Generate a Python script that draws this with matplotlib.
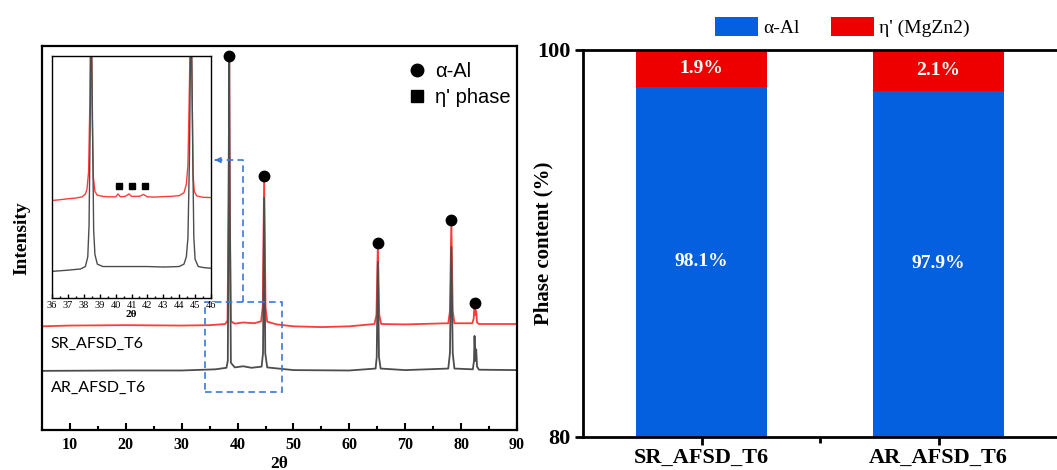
import matplotlib
matplotlib.use("Agg")
import matplotlib.pyplot as plt
from matplotlib.lines import Line2D
from matplotlib.patches import Rectangle

# ---------------- data ----------------
# main XRD pattern (2theta, relative intensity with offset)
sr_x = [5, 10, 20, 30, 35, 37.8, 38.2, 38.4, 38.5, 38.6, 38.8, 39.5, 41, 43, 44.2, 44.5, 44.75, 45.0, 45.3,
        47, 50, 55, 60, 64.5, 64.85, 65.1, 65.35, 65.7, 70, 77.7, 78.0, 78.25, 78.5, 78.8,
        82.0, 82.25, 82.4, 82.55, 82.7, 82.85, 83.2, 90]
sr_y = [27.0, 27.2, 27.3, 27.2, 27.3, 27.6, 28.5, 60, 97.5, 60, 28.3, 27.7, 28.0, 27.8, 28.3, 32, 65.5, 32, 28.2,
        27.5, 27.0, 26.8, 27.0, 27.6, 30, 48.5, 30, 27.6, 27.5, 27.8, 31, 54.5, 31, 27.8,
        27.8, 29, 33.0, 30, 31, 28, 27.6, 27.6]
ar_x = [5, 20, 30, 36, 38.0, 38.25, 38.4, 38.5, 38.6, 38.8, 39.5, 41, 42.5, 44.3, 44.55, 44.75, 44.95, 45.3,
        50, 60, 64.7, 64.9, 65.1, 65.3, 65.6, 70, 77.7, 78.0, 78.25, 78.5, 78.8,
        82.1, 82.3, 82.4, 82.55, 82.7, 82.85, 83.2, 90]
ar_y = [15.4, 15.5, 15.5, 15.8, 16.2, 18, 60, 97.3, 60, 17.5, 16.3, 16.6, 16.2, 16.5, 20, 60.5, 20, 16.3,
        15.6, 15.5, 16, 19, 43.8, 19, 16, 15.6, 16, 20, 47.7, 20, 16,
        15.8, 18, 24.5, 18, 21, 16.5, 15.7, 15.6]
al_peak_x = [38.5, 44.75, 65.1, 78.25, 82.4]
al_peak_y = [97.4, 66.1, 48.7, 54.7, 33.1]

# inset (36-46 deg)
sr_in_x = [36.0, 36.5, 37.0, 37.5, 37.9, 38.1, 38.2, 38.3, 38.38, 38.45, 38.52, 38.6, 38.7, 38.85, 39.2, 39.6,
           40.0, 40.15, 40.3, 40.6, 40.85, 41.0, 41.5, 41.75, 42.0, 42.5, 43.0, 43.5, 44.0, 44.3, 44.45,
           44.55, 44.65, 44.72, 44.8, 44.88, 44.95, 45.1, 45.5, 46.0]
sr_in_y = [40.3, 40.6, 41.0, 41.3, 41.8, 43.0, 45, 52, 80, 130, 80, 50, 44, 42.5, 42, 41.8,
           41.8, 43, 41.8, 42, 43, 42, 42, 42.8, 41.8, 41.7, 41.9, 42.0, 42.3, 43.5, 47,
           55, 90, 130, 90, 50, 44, 42.2, 41.6, 41.5]
ar_in_x = [36.0, 37.0, 37.8, 38.1, 38.25, 38.33, 38.4, 38.46, 38.55, 38.62, 38.7, 38.85, 39.2, 40, 41, 42, 43,
           44, 44.3, 44.45, 44.55, 44.65, 44.75, 44.85, 44.92, 45.0, 45.2, 45.6, 46]
ar_in_y = [11.0, 11.5, 12, 13, 17, 30, 70, 130, 70, 28, 18, 14, 13, 13, 13, 13, 12.8,
           13, 14, 17, 25, 60, 130, 60, 25, 16, 13, 12.5, 12.3]
eta_x = [40.24, 41.06, 41.85]
eta_y = [46.3, 46.3, 46.3]

# phase content
samples = ["SR_AFSD_T6", "AR_AFSD_T6"]
alpha_al = [98.1, 97.9]
eta_mgzn2 = [1.9, 2.1]

RED = "#ff3b3b"
GRAY = "#4d4d4d"
BLUE_D = "#3c78d8"
BAR_BLUE = "#0560e0"
BAR_RED = "#ee0000"
SERIF = "Liberation Serif"

fig = plt.figure(figsize=(10.57, 4.70), dpi=100)

# ---------------- main XRD axes ----------------
ax = fig.add_axes([42/1057, 1-430/470, 475/1057, 384/470])
ax.plot(sr_x, sr_y, color=RED, lw=1.3)
ax.plot(ar_x, ar_y, color=GRAY, lw=1.3)
ax.plot(al_peak_x, al_peak_y, 'o', color='black', ms=7.5, zorder=5)
ax.set_xlim(5, 90)
ax.set_ylim(0, 100)
ax.set_yticks([])
ax.set_xticks(range(10, 91, 10))
ax.set_xticks(range(5, 91, 5), minor=True)
ax.tick_params(axis='x', which='major', direction='in', length=5, width=1.5, pad=5)
ax.tick_params(axis='x', which='minor', direction='in', length=3, width=1.5)
for lab in ax.get_xticklabels():
    lab.set_fontfamily(SERIF)
    lab.set_fontweight('bold')
    lab.set_fontsize(11.5)
for s in ax.spines.values():
    s.set_linewidth(1.6)
ax.set_xlabel("2θ", fontfamily=SERIF, fontweight='bold', fontsize=12.5, labelpad=2)
ax.set_ylabel("Intensity", fontfamily=SERIF, fontweight='bold', fontsize=14, labelpad=8)

ax.text(6.6, 22.5, "SR_AFSD_T6", fontfamily="Lato", fontsize=11.5, va='center', ha='left')
ax.text(6.6, 11.0, "AR_AFSD_T6", fontfamily="Lato", fontsize=11.5, va='center', ha='left')

# dashed zoom box and arrow
ax.add_patch(Rectangle((34.2, 9.9), 48.0-34.2, 33.3-9.9, fill=False, ls=(0, (4, 2.5)),
                       ec=BLUE_D, lw=1.2, zorder=4))
ax.plot([41.0, 41.0, 36.5], [33.3, 70.3, 70.3], ls=(0, (4, 2.5)), color=BLUE_D, lw=1.2, zorder=4)
ax.annotate("", xy=(35.4, 70.3), xytext=(36.6, 70.3),
            arrowprops=dict(arrowstyle='-|>', color=BLUE_D, lw=1.2, mutation_scale=8))

ax.legend(handles=[Line2D([], [], marker='o', ls='', color='black', ms=9, label='α-Al'),
                   Line2D([], [], marker='s', ls='', color='black', ms=8, label="η' phase")],
          loc='upper left', bbox_to_anchor=(0.751, 0.985), frameon=False, borderpad=0,
          handlelength=0.8, handletextpad=0.5, labelspacing=0.35,
          prop={'family': 'Liberation Sans', 'size': 14.5})

# ---------------- inset ----------------
axi = fig.add_axes([52/1057, 1-298/470, 159/1057, 242/470])
axi.plot(sr_in_x, sr_in_y, color=RED, lw=1.0)
axi.plot(ar_in_x, ar_in_y, color=GRAY, lw=1.0)
axi.plot(eta_x, eta_y, 's', color='black', ms=4.5)
axi.set_xlim(36, 46)
axi.set_ylim(0, 100)
axi.set_yticks([])
axi.set_xticks(range(36, 47))
axi.set_xticks([x + 0.5 for x in range(36, 46)], minor=True)
axi.tick_params(axis='x', which='major', direction='in', length=3, width=1.0, pad=2, labelsize=7.5)
axi.tick_params(axis='x', which='minor', direction='in', length=1.5, width=1.0)
for lab in axi.get_xticklabels():
    lab.set_fontfamily(SERIF)
for s in axi.spines.values():
    s.set_linewidth(1.0)
axi.set_xlabel("2θ", fontfamily=SERIF, fontweight='bold', fontsize=8, labelpad=0)

# ---------------- phase content bars ----------------
axb = fig.add_axes([583/1057, 1-437/470, 474/1057, 387/470])
pos = list(range(len(samples)))
bars_a = axb.bar(pos, alpha_al, width=0.55, color=BAR_BLUE, label='α-Al')
bars_e = axb.bar(pos, eta_mgzn2, width=0.55, bottom=alpha_al, color=BAR_RED, label="η' (MgZn2)")
axb.set_xlim(-0.5, 1.5)
axb.set_ylim(80, 100)
axb.set_yticks([80, 100])
axb.set_xticks(pos)
axb.set_xticklabels(samples)
axb.set_xticks([0.5], minor=True)
axb.tick_params(axis='x', which='major', direction='out', length=6, width=2, pad=2)
axb.tick_params(axis='x', which='minor', direction='out', length=4, width=2)
axb.tick_params(axis='y', direction='out', length=6, width=2, pad=3)
for lab in axb.get_xticklabels() + axb.get_yticklabels():
    lab.set_fontfamily(SERIF)
    lab.set_fontweight('bold')
    lab.set_fontsize(16)
axb.spines['right'].set_visible(False)
for k in ['left', 'top', 'bottom']:
    axb.spines[k].set_linewidth(2)
axb.set_ylabel("Phase content (%)", fontfamily=SERIF, fontweight='bold', fontsize=15)
axb.yaxis.set_label_coords(-0.062, 0.5)

for i in pos:
    axb.text(i, 80 + (alpha_al[i] - 80) / 2, f"{alpha_al[i]:.1f}%", color='white', ha='center', va='center',
             fontfamily=SERIF, fontweight='bold', fontsize=14)
    axb.text(i, alpha_al[i] + eta_mgzn2[i] / 2, f"{eta_mgzn2[i]:.1f}%", color='white', ha='center', va='center',
             fontfamily=SERIF, fontweight='bold', fontsize=14)

fig.legend(handles=[bars_a, bars_e], loc='upper left', bbox_to_anchor=(705/1057, 1-7/470), ncol=2,
           frameon=False, borderpad=0, handlelength=2.2, handleheight=1.13, handletextpad=0.3,
           columnspacing=1.6, prop={'family': SERIF, 'size': 14})

fig.savefig("out.png", dpi=100)
